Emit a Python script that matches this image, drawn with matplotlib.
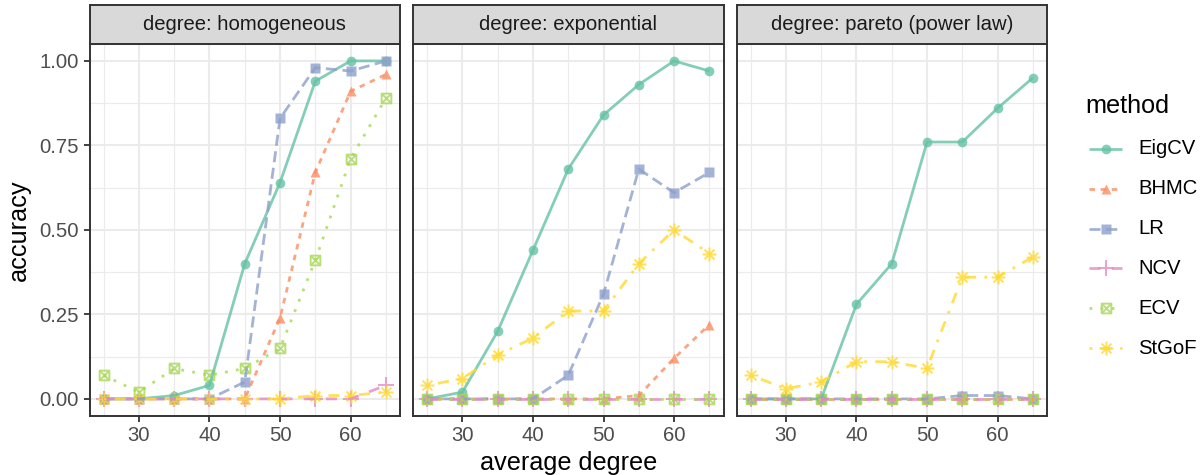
import matplotlib
matplotlib.use('Agg')
import matplotlib.pyplot as plt
from matplotlib.lines import Line2D
from matplotlib.path import Path
import numpy as np

# ---------------- data ----------------
avg_degree = [25, 30, 35, 40, 45, 50, 55, 60, 65]
facet_titles = ['degree: homogeneous', 'degree: exponential', 'degree: pareto (power law)']
methods = ['EigCV', 'BHMC', 'LR', 'NCV', 'ECV', 'StGoF']

homog_eigcv = [0.00, 0.00, 0.01, 0.04, 0.40, 0.64, 0.94, 1.00, 1.00]
homog_bhmc  = [0.00, 0.00, 0.00, 0.00, 0.00, 0.24, 0.67, 0.91, 0.96]
homog_lr    = [0.00, 0.00, 0.00, 0.00, 0.05, 0.83, 0.98, 0.97, 1.00]
homog_ncv   = [0.00, 0.00, 0.00, 0.00, 0.00, 0.00, 0.00, 0.00, 0.04]
homog_ecv   = [0.07, 0.02, 0.09, 0.07, 0.09, 0.15, 0.41, 0.71, 0.89]
homog_stgof = [0.00, 0.00, 0.00, 0.00, 0.00, 0.00, 0.01, 0.01, 0.02]

expo_eigcv = [0.00, 0.02, 0.20, 0.44, 0.68, 0.84, 0.93, 1.00, 0.97]
expo_bhmc  = [0.00, 0.00, 0.00, 0.00, 0.00, 0.00, 0.01, 0.12, 0.22]
expo_lr    = [0.00, 0.00, 0.00, 0.00, 0.07, 0.31, 0.68, 0.61, 0.67]
expo_ncv   = [0.00, 0.00, 0.00, 0.00, 0.00, 0.00, 0.00, 0.00, 0.00]
expo_ecv   = [0.00, 0.00, 0.00, 0.00, 0.00, 0.00, 0.00, 0.00, 0.00]
expo_stgof = [0.04, 0.06, 0.13, 0.18, 0.26, 0.26, 0.40, 0.50, 0.43]

pareto_eigcv = [0.00, 0.00, 0.00, 0.28, 0.40, 0.76, 0.76, 0.86, 0.95]
pareto_bhmc  = [0.00, 0.00, 0.00, 0.00, 0.00, 0.00, 0.00, 0.00, 0.00]
pareto_lr    = [0.00, 0.00, 0.00, 0.00, 0.00, 0.00, 0.01, 0.01, 0.00]
pareto_ncv   = [0.00, 0.00, 0.00, 0.00, 0.00, 0.00, 0.00, 0.00, 0.00]
pareto_ecv   = [0.00, 0.00, 0.00, 0.00, 0.00, 0.00, 0.00, 0.00, 0.00]
pareto_stgof = [0.07, 0.03, 0.05, 0.11, 0.11, 0.09, 0.36, 0.36, 0.42]

panels = [
    [homog_eigcv, homog_bhmc, homog_lr, homog_ncv, homog_ecv, homog_stgof],
    [expo_eigcv, expo_bhmc, expo_lr, expo_ncv, expo_ecv, expo_stgof],
    [pareto_eigcv, pareto_bhmc, pareto_lr, pareto_ncv, pareto_ecv, pareto_stgof],
]

# ---------------- styles ----------------
colors = ['#66C2A5', '#FC8D62', '#8DA0CB', '#E78AC3', '#A6D854', '#FFD92F']
dashes = [None, (2, 2), (4, 2), (4, 4), (1, 3), (1, 3, 4, 3)]

sqx = Path([(-1, -1), (1, -1), (1, 1), (-1, 1), (-1, -1), (-1, -1), (1, 1), (-1, 1), (1, -1)],
           [Path.MOVETO, Path.LINETO, Path.LINETO, Path.LINETO, Path.LINETO,
            Path.MOVETO, Path.LINETO, Path.MOVETO, Path.LINETO])
d = 0.7071
ast = Path([(-1, 0), (1, 0), (0, -1), (0, 1), (-d, -d), (d, d), (-d, d), (d, -d)],
           [Path.MOVETO, Path.LINETO] * 4)
markers = ['o', '^', 's', '+', sqx, ast]
msizes = [7.0, 7.8, 7.0, 11, 7.0, 10]
filled = [True, True, True, False, False, False]
ALPHA = 0.8
LW = 2.0

plt.rcParams['font.family'] = ['Liberation Sans', 'DejaVu Sans']

W, H = 1201, 475
fig = plt.figure(figsize=(W / 100, H / 100), dpi=100)

def fx(p):
    return p / W

def fy(p):
    return 1 - p / H

def marker_kw(j):
    if filled[j]:
        return dict(marker=markers[j], ms=msizes[j], mfc=colors[j], mec='none')
    return dict(marker=markers[j], ms=msizes[j], mfc='none', mec=colors[j], mew=1.4)

panel_left = [89.5, 413.0, 736.5]
panel_w = 310.5
top, bottom = 44.0, 415.8
strip_top = 4.5

axes = []
for i in range(3):
    ax = fig.add_axes([fx(panel_left[i]), fy(bottom), panel_w / W, (bottom - top) / H])
    axes.append(ax)
    ax.set_xlim(23, 67)
    ax.set_ylim(-0.05, 1.05)
    ax.set_xticks([30, 40, 50, 60])
    ax.set_xticks([25, 35, 45, 55, 65], minor=True)
    ax.set_yticks([0, 0.25, 0.5, 0.75, 1.0])
    ax.set_yticks([0.125, 0.375, 0.625, 0.875], minor=True)
    ax.grid(True, which='major', color='#EBEBEB', linewidth=1.5)
    ax.grid(True, which='minor', color='#EBEBEB', linewidth=0.8)
    ax.set_axisbelow(True)
    for s in ax.spines.values():
        s.set_color('#333333')
        s.set_linewidth(1.4)
    ax.tick_params(which='major', length=4.5, width=1.3, color='#333333',
                   labelsize=14.6, labelcolor='#4D4D4D', pad=3)
    ax.tick_params(which='minor', length=0)
    ax.set_yticklabels(['0.00', '0.25', '0.50', '0.75', '1.00'])
    if i > 0:
        ax.tick_params(axis='y', labelleft=False, length=0)

    series = panels[i]
    for j, m in enumerate(methods):
        ax.plot(avg_degree, series[j], linestyle='none', alpha=ALPHA, **marker_kw(j))
    for j, m in enumerate(methods):
        ln, = ax.plot(avg_degree, series[j], color=colors[j], alpha=ALPHA, lw=LW,
                      solid_capstyle='butt', dash_capstyle='butt')
        if dashes[j] is not None:
            ln.set_dashes(dashes[j])

    # strip
    sax = fig.add_axes([fx(panel_left[i]), fy(top), panel_w / W, (top - strip_top) / H])
    sax.set_facecolor('#D9D9D9')
    sax.set_xticks([])
    sax.set_yticks([])
    for s in sax.spines.values():
        s.set_color('#333333')
        s.set_linewidth(1.4)
    sax.text(0.5, 0.5, facet_titles[i], ha='center', va='center', fontsize=14.6,
             color='#1A1A1A', transform=sax.transAxes)

axes[0].set_ylabel('accuracy', fontsize=18.2, color='black', labelpad=6)
fig.text(fx((panel_left[0] + panel_left[2] + panel_w) / 2), fy(463), 'average degree',
         ha='center', va='center', fontsize=18.2, color='black')

# ---------------- legend (ggplot-style) ----------------
fig.text(fx(1085), fy(106), 'method', ha='left', va='center', fontsize=18.2, color='black')
key_x0, key_x1 = 1089, 1122
for j, m in enumerate(methods):
    yk = 149 + 39.8 * j
    ln = Line2D([fx(key_x0), fx(key_x1)], [fy(yk), fy(yk)], transform=fig.transFigure,
                color=colors[j], alpha=ALPHA, lw=LW, solid_capstyle='butt',
                dash_capstyle='butt')
    if dashes[j] is not None:
        ln.set_dashes(dashes[j])
    fig.add_artist(ln)
    mk = Line2D([fx((key_x0 + key_x1) / 2)], [fy(yk)], transform=fig.transFigure,
                linestyle='none', alpha=ALPHA, **marker_kw(j))
    fig.add_artist(mk)
    fig.text(fx(1138), fy(yk), m, ha='left', va='center', fontsize=14.6, color='black')

fig.savefig('out.png', dpi=100)
